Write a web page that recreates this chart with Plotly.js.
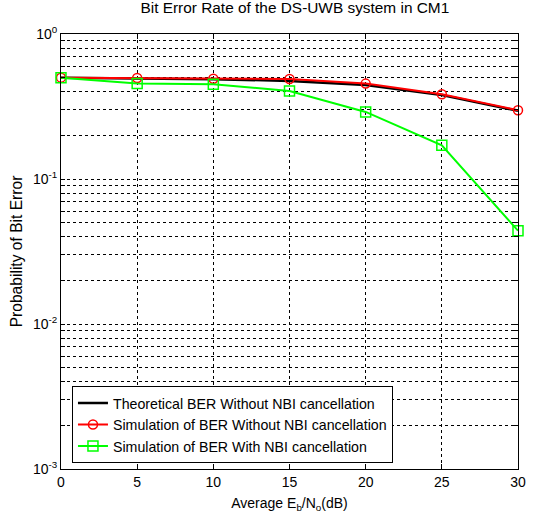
<!DOCTYPE html>
<html>
<head>
<meta charset="utf-8">
<script src="https://cdn.plot.ly/plotly-3.0.1.min.js"></script>
<style>html,body{margin:0;padding:0;background:#fff}#chart{width:541px;height:521px}</style>
</head>
<body>
<div id="chart"></div>
<script>
const ebno = [0, 5, 10, 15, 20, 25, 30];
const berTheory = [0.5, 0.495, 0.488, 0.475, 0.445, 0.38, 0.295];
const berSimNoCancel = [0.5, 0.497, 0.492, 0.49, 0.455, 0.384, 0.298];
const berSimCancel = [0.5, 0.456, 0.45, 0.405, 0.29, 0.171, 0.044];
const seriesNames = [
  'Theoretical BER Without NBI cancellation',
  'Simulation of BER Without NBI cancellation',
  'Simulation of BER With NBI cancellation'
];
const xTicks = [0, 5, 10, 15, 20, 25, 30];
const decades = [-3, -2, -1, 0];

const yTickVals = [];
const yTickText = [];
decades.forEach(d => {
  for (let m = 1; m <= 9; m++) {
    if (d === 0 && m > 1) break;
    yTickVals.push(m * Math.pow(10, d));
    yTickText.push(m === 1 ? '10<sup>' + d + '</sup>' : '');
  }
});

const fam = 'Liberation Sans, Arial, sans-serif';

const traces = [
  {x: ebno, y: berTheory, name: seriesNames[0], mode: 'lines', cliponaxis: false,
   line: {color: '#000000', width: 2.5}},
  {x: ebno, y: berSimNoCancel, name: seriesNames[1], mode: 'lines+markers', cliponaxis: false,
   line: {color: '#ff0000', width: 2},
   marker: {symbol: 'circle-open', size: 9, color: '#ff0000', line: {width: 1.5}}},
  {x: ebno, y: berSimCancel, name: seriesNames[2], mode: 'lines+markers', cliponaxis: false,
   line: {color: '#00ff00', width: 2},
   marker: {symbol: 'square-open', size: 10, color: '#00ff00', line: {width: 1.5}}}
];

const layout = {
  width: 541, height: 521,
  margin: {l: 61, r: 23, t: 34, b: 52},
  paper_bgcolor: '#fff', plot_bgcolor: '#fff',
  font: {family: fam, size: 14, color: '#000'},
  showlegend: true,
  title: {text: 'Bit Error Rate of the DS-UWB system in CM1', font: {family: fam, size: 15.4, color: '#000'},
          x: 0.545, xanchor: 'center', y: 0.995, yanchor: 'top'},
  xaxis: {
    range: [0, 30], tickvals: xTicks, ticktext: xTicks.map(String),
    showgrid: true, gridcolor: '#000', griddash: '3px,3px', gridwidth: 1,
    zeroline: false, showline: true, linecolor: '#000', linewidth: 1, mirror: 'ticks',
    ticks: 'inside', ticklen: 5, tickcolor: '#000',
    tickfont: {family: fam, size: 14, color: '#000'},
    title: {text: 'Average E<sub>b</sub>/N<sub>o</sub>(dB)', font: {family: fam, size: 14, color: '#000'}, standoff: 9}
  },
  yaxis: {
    type: 'log', range: [-3, 0], tickvals: yTickVals, ticktext: yTickText,
    showgrid: true, gridcolor: '#000', griddash: '3px,3px', gridwidth: 1,
    zeroline: false, showline: true, linecolor: '#000', linewidth: 1, mirror: 'ticks',
    ticks: 'inside', ticklen: 4, tickcolor: '#000',
    tickfont: {family: fam, size: 14, color: '#000'},
    title: {text: 'Probability of Bit Error', font: {family: fam, size: 15.6, color: '#000'}, standoff: 6}
  },
  legend: {
    x: 0.024, y: 0.013, xanchor: 'left', yanchor: 'bottom',
    bgcolor: '#fff', bordercolor: '#000', borderwidth: 1,
    font: {family: fam, size: 14.2, color: '#000'},
    tracegroupgap: 0
  }
};

Plotly.newPlot('chart', traces, layout, {displayModeBar: false, staticPlot: true});
</script>
</body>
</html>
